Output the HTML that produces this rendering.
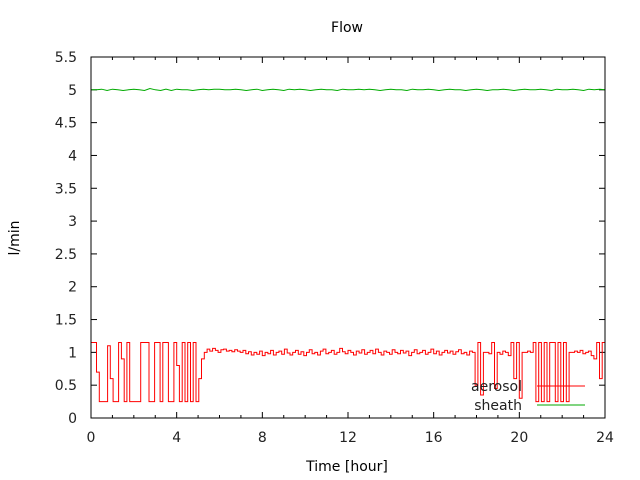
<!DOCTYPE html>
<html><head><meta charset="utf-8"><style>
body{margin:0;background:#fff}
svg{display:block;font-family:"DejaVu Sans","Liberation Sans",sans-serif}
</style></head><body>
<svg id="c" width="640" height="480">
<rect width="640" height="480" fill="#fff"/>
<text x="347" y="32" font-size="14" text-anchor="middle">Flow</text>
<text x="19" y="238" font-size="14" text-anchor="middle" transform="rotate(-90 19 238)">l/min</text>
<text x="347" y="471" font-size="14" text-anchor="middle">Time [hour]</text>
<g id="axes"></g>
<g id="series"></g>
<g>
<text x="522" y="391" font-size="14" text-anchor="end" fill="#222">aerosol</text>
<line x1="537" y1="386" x2="585" y2="386" stroke="#f00" stroke-width="1"/>
<text x="522" y="410" font-size="14" text-anchor="end" fill="#222">sheath</text>
<line x1="537" y1="405" x2="585" y2="405" stroke="#0a0" stroke-width="1"/>
</g>
<rect x="91" y="57" width="514" height="361" fill="none" stroke="#000" stroke-width="1"/>
</svg>
<script>
const xTickLabels=["0","4","8","12","16","20","24"];
const yTickLabels=["0","0.5","1","1.5","2","2.5","3","3.5","4","4.5","5","5.5"];
const aerosol=[1.15,1.15,0.7,0.25,0.25,0.25,1.1,0.6,0.25,0.25,1.15,0.9,0.25,1.15,0.25,0.25,0.25,0.25,1.15,1.15,1.15,0.25,0.25,1.15,1.15,0.25,1.15,1.15,0.25,0.25,1.15,0.8,0.25,1.15,0.25,1.15,0.25,1.15,0.25,0.6,0.9,1.0,
1.05,1.02,1.06,1.03,1.0,1.04,1.05,1.02,1.03,1.01,1.04,1.02,1.0,1.03,0.98,1.01,0.96,1.0,0.97,1.02,0.95,1.0,0.98,1.03,0.96,1.0,1.02,0.97,1.05,0.99,0.96,1.0,1.03,0.97,1.01,0.95,1.0,1.04,0.98,1.0,0.96,1.02,1.05,0.98,1.0,1.03,0.97,1.0,1.06,1.01,0.98,1.03,1.0,0.96,1.02,0.99,1.04,0.97,1.0,1.03,0.98,1.05,1.0,0.96,1.02,1.0,0.97,1.04,1.0,0.98,1.03,0.99,1.02,0.95,1.0,1.04,0.98,1.0,1.03,0.97,1.0,1.05,0.98,1.02,0.96,1.0,1.03,0.99,1.02,0.97,1.01,1.04,0.98,1.0,0.96,1.02,
1.0,0.5,1.15,0.35,1.0,1.0,0.98,1.15,0.45,1.0,0.97,1.02,1.0,0.95,1.15,0.6,1.15,0.3,1.0,1.0,1.02,1.0,
1.15,0.25,1.15,0.25,1.15,0.25,1.15,1.15,0.25,1.15,0.25,1.15,0.25,1.0,
1.0,1.02,1.0,1.03,0.98,1.0,1.02,0.95,0.9,1.15,0.6,1.15,1.15];
const sheath=[5.0,5.0,5.01,4.99,5.01,5.0,4.99,5.0,5.01,5.0,4.99,5.02,5.0,4.99,5.01,4.99,5.01,5.0,5.0,4.99,5.0,5.01,5.0,5.01,5.01,5.0,5.0,5.01,5.0,4.99,5.0,5.01,4.99,5.0,5.01,5.0,4.99,5.01,5.0,5.01,5.0,4.99,5.0,5.01,5.0,5.0,4.99,5.01,5.0,5.0,5.01,5.0,5.01,5.0,4.99,5.0,5.01,5.0,5.0,4.99,5.01,5.0,5.0,5.01,5.0,4.99,5.0,5.01,5.0,5.0,4.99,5.0,5.01,5.0,4.99,5.0,5.0,5.01,5.0,4.99,5.0,5.01,5.0,5.0,5.01,5.0,4.99,5.01,5.0,5.0,5.01,5.0,4.99,5.01,5.0,5.01,5.0];
const X0=91,X1=605,Y0=418,Y1=57,XMAX=24,YMAX=5.5;
const sx=v=>X0+(X1-X0)*v/XMAX;
const sy=v=>Y0-(Y0-Y1)*v/YMAX;
const NS="http://www.w3.org/2000/svg";
const axes=document.getElementById('axes');
function mk(tag,attrs,parent){const e=document.createElementNS(NS,tag);for(const k in attrs)e.setAttribute(k,attrs[k]);parent.appendChild(e);return e;}
yTickLabels.forEach(l=>{const v=parseFloat(l),y=sy(v);
const t=mk('line',{x1:X0,x2:X0+6,y1:y,y2:y,stroke:'#000'},axes);


const t2=mk('line',{x1:X1,x2:X1-6,y1:y,y2:y,stroke:'#000'},axes);


const tx=mk('text',{x:X0-14,y:y+5,'font-size':14,'text-anchor':'end',fill:'#222'},axes);tx.textContent=l;


});
for(let h=0;h<=XMAX;h++){const x=sx(h),len=(h%4===0)?6:3;
const t=mk('line',{x1:x,x2:x,y1:Y0,y2:Y0-len,stroke:'#000'},axes);


const t2=mk('line',{x1:x,x2:x,y1:Y1,y2:Y1+len,stroke:'#000'},axes);


}
xTickLabels.forEach(l=>{const v=parseFloat(l);
const tx=mk('text',{x:sx(v),y:Y0+24,'font-size':14,'text-anchor':'middle',fill:'#222'},axes);tx.textContent=l;


});
const series=document.getElementById('series');
function line(arr,color,name,steps){const n=arr.length;const pts=[];
arr.forEach((v,i)=>{const x=sx(i*XMAX/(n-1)).toFixed(1),y=sy(v).toFixed(1);
if(steps&&i>0){pts.push(x+','+sy(arr[i-1]).toFixed(1));}
pts.push(x+','+y);});
const p=mk('polyline',{points:pts.join(' '),fill:'none',stroke:color,'stroke-width':1},series);


}
line(sheath,'#0a0','sheath-line',false);
line(aerosol,'#f00','aerosol-line',true);
</script>
</body></html>
